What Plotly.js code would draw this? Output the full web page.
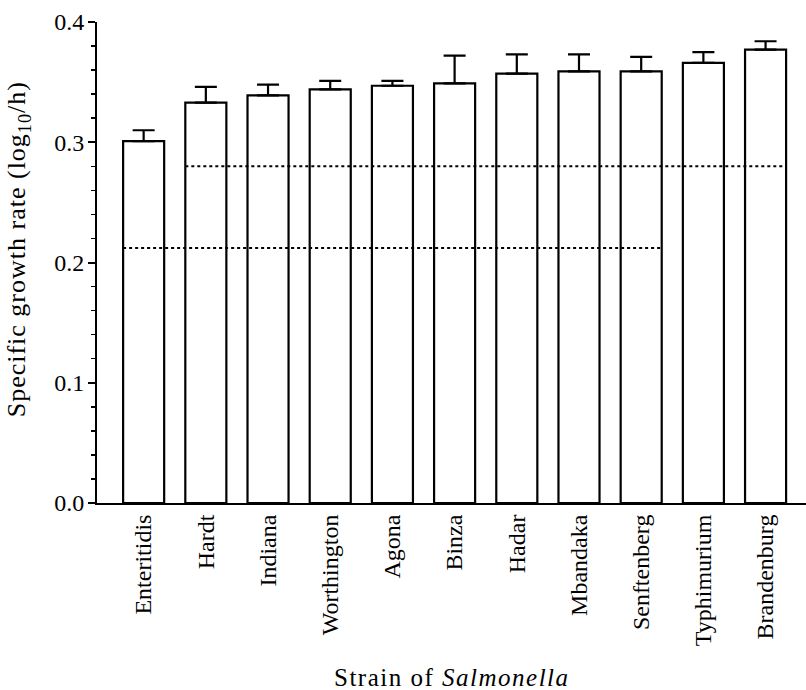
<!DOCTYPE html>
<html>
<head>
<meta charset="utf-8">
<script src="https://cdn.plot.ly/plotly-3.0.1.min.js"></script>
<style>
html,body{margin:0;padding:0;background:#fff;}
#chart{width:806px;height:690px;}
#chart .annotation[data-index="0"] .annotation-text{letter-spacing:1.5px;}
#chart .annotation[data-index="1"] .annotation-text{letter-spacing:1px;}
</style>
</head>
<body>
<div id="chart"></div>
<script>
var strains = ['Enteritidis','Hardt','Indiana','Worthington','Agona','Binza','Hadar','Mbandaka','Senftenberg','Typhimurium','Brandenburg'];
var growthRate = [0.301, 0.333, 0.339, 0.344, 0.347, 0.349, 0.357, 0.359, 0.359, 0.366, 0.377];
var errorUp = [0.009, 0.013, 0.009, 0.007, 0.004, 0.023, 0.016, 0.014, 0.012, 0.009, 0.007];
// dotted group lines: value, first strain, last strain
var groupValues = [0.280, 0.212];
var groupFrom = ['Hardt', 'Enteritidis'];
var groupTo = ['Brandenburg', 'Senftenberg'];
var xTitle = 'Strain of <i>Salmonella</i>';
var yTitle = 'Specific growth rate (log<sub>10</sub>/h)';

var barWidth = 0.66;
var serif = 'Liberation Serif, Times New Roman, serif';

var shapes = groupValues.map(function(v, i) {
  return {
    type: 'line', xref: 'x', yref: 'y',
    x0: strains.indexOf(groupFrom[i]) - barWidth / 2,
    x1: strains.indexOf(groupTo[i]) + barWidth / 2,
    y0: v, y1: v,
    line: {color: '#000', width: 2, dash: 'dot'},
    layer: 'above'
  };
});

var trace = {
  type: 'bar',
  x: strains.map(function(s, i){ return i; }),
  y: growthRate,
  width: barWidth,
  marker: {color: '#fff', line: {color: '#000', width: 2.2}},
  error_y: {type: 'data', symmetric: false, array: errorUp, arrayminus: errorUp.map(function(){return 0;}), color: '#000', thickness: 2.2, width: 11},
  hoverinfo: 'none'
};

var layout = {
  width: 806, height: 690,
  margin: {l: 97, r: 0, t: 22, b: 187},
  paper_bgcolor: '#fff', plot_bgcolor: '#fff',
  showlegend: false,
  font: {family: serif, color: '#000'},
  xaxis: {
    range: [-0.75, 10.65],
    tickmode: 'array',
    tickvals: strains.map(function(s, i){ return i; }),
    ticktext: strains,
    tickangle: -90,
    ticks: '',
    showgrid: false, zeroline: false,
    showline: true, linecolor: '#000', linewidth: 2,
    tickfont: {family: serif, size: 24, color: '#000'}
  },
  yaxis: {
    range: [0, 0.4],
    tickmode: 'linear', tick0: 0, dtick: 0.1,
    tickformat: '.1f',
    ticks: 'outside', ticklen: 7, tickwidth: 2, tickcolor: '#000',
    ticklabelstandoff: -1,
    minor: {dtick: 0.02, ticks: 'outside', ticklen: 4, tickwidth: 1.5, tickcolor: '#000', showgrid: false},
    showgrid: false, zeroline: false,
    showline: true, linecolor: '#000', linewidth: 2,
    tickfont: {family: serif, size: 24, color: '#000'}
  },
  annotations: [
    {text: xTitle, xref: 'paper', yref: 'paper', x: 0.5, y: -0.362, xanchor: 'center', yanchor: 'middle', showarrow: false,
     font: {family: serif, size: 25, color: '#000'}},
    {text: yTitle, xref: 'paper', yref: 'paper', x: -0.111, y: 0.528, xanchor: 'center', yanchor: 'middle', textangle: -90, showarrow: false,
     font: {family: serif, size: 26, color: '#000'}}
  ],
  shapes: shapes
};

Plotly.newPlot('chart', [trace], layout, {displayModeBar: false, staticPlot: true});
</script>
</body>
</html>
